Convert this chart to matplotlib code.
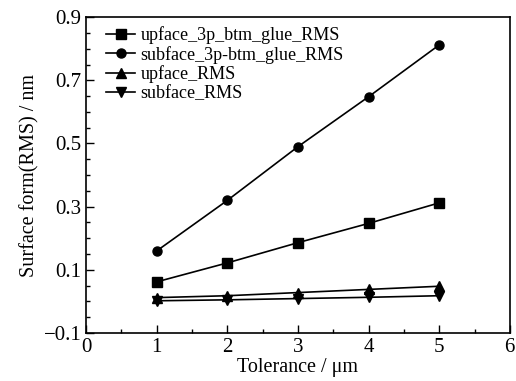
import matplotlib
matplotlib.use("Agg")
import matplotlib.pyplot as plt
from matplotlib.ticker import MultipleLocator, FixedLocator

plt.rcParams['font.family'] = ['Liberation Serif', 'DejaVu Serif']

tolerance = [1, 2, 3, 4, 5]
upface_3p = [0.062, 0.122, 0.186, 0.247, 0.312]
subface_3p = [0.160, 0.320, 0.490, 0.648, 0.812]
upface = [0.012, 0.018, 0.028, 0.038, 0.048]
subface = [0.002, 0.005, 0.009, 0.013, 0.018]
labels = ["upface_3p_btm_glue_RMS", "subface_3p-btm_glue_RMS",
          "upface_RMS", "subface_RMS"]

fig = plt.figure(figsize=(5.16, 3.81), dpi=100)
ax = fig.add_axes([0.167, 0.126, 0.821, 0.829])

ax.plot(tolerance, upface_3p, 'k-s', ms=6.5, lw=1.2, label=labels[0])
ax.plot(tolerance, subface_3p, 'k-o', ms=6.5, lw=1.2, label=labels[1])
ax.plot(tolerance, upface, 'k-^', ms=6.5, lw=1.2, label=labels[2])
ax.plot(tolerance, subface, 'k-v', ms=6.5, lw=1.2, label=labels[3])

ax.set_xlim(0, 6)
ax.set_ylim(-0.1, 0.9)
ax.xaxis.set_major_locator(MultipleLocator(1))
ax.xaxis.set_minor_locator(MultipleLocator(0.5))
ax.yaxis.set_major_locator(FixedLocator([-0.1, 0.1, 0.3, 0.5, 0.7, 0.9]))
ax.yaxis.set_minor_locator(MultipleLocator(0.05))
ax.set_yticklabels(['\u22120.1', '0.1', '0.3', '0.5', '0.7', '0.9'])
ax.tick_params(which='both', direction='in', top=False, right=False,
               labelsize=15)
ax.tick_params(which='major', length=6, width=1)
ax.tick_params(which='minor', length=3, width=1)
for s in ax.spines.values():
    s.set_linewidth(1.2)

ax.set_xlabel('Tolerance / \u03bcm', fontsize=14.5, labelpad=1)
ax.set_ylabel('Surface form(RMS) / nm', fontsize=14.5, labelpad=3)

ax.legend(loc='upper left', frameon=False, fontsize=13, handlelength=1.6,
          handletextpad=0.3, labelspacing=0.1, borderaxespad=0.0,
          bbox_to_anchor=(0.03, 0.995))

fig.savefig('out.png', dpi=100)
